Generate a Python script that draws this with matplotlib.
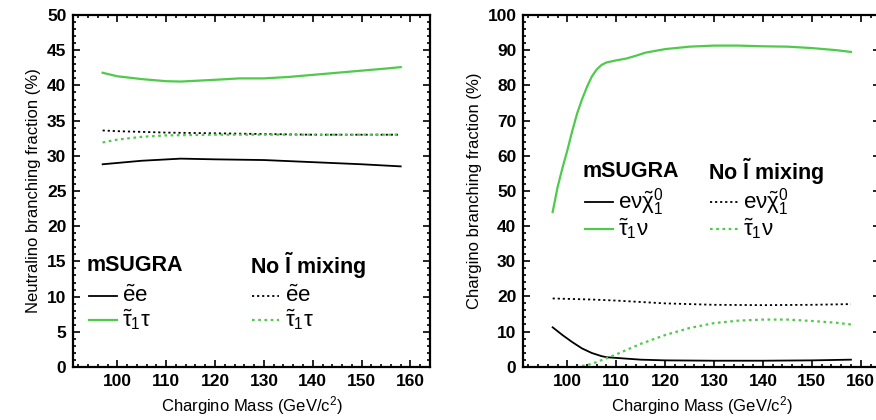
import matplotlib
matplotlib.use('Agg')
import matplotlib.pyplot as plt
from matplotlib.ticker import MultipleLocator

plt.rcParams['font.family'] = ['Liberation Sans', 'DejaVu Sans']
plt.rcParams['mathtext.fontset'] = 'custom'
plt.rcParams['mathtext.rm'] = 'Liberation Sans'
plt.rcParams['mathtext.it'] = 'Liberation Sans'
plt.rcParams['mathtext.bf'] = 'Liberation Sans:bold'

GREEN = '#4fca4a'

# 左: ニュートラリーノ崩壊分岐比
n_mass_a = [97, 100, 105, 110, 113, 120, 125, 130, 135, 140, 145, 150, 155, 158]
n_stau_msugra = [41.8, 41.3, 40.9, 40.6, 40.55, 40.8, 41.0, 41.0, 41.2, 41.5, 41.8, 42.1, 42.4, 42.6]
n_mass_b = [97, 105, 113, 120, 130, 140, 150, 158]
n_sel_msugra = [28.8, 29.3, 29.6, 29.5, 29.4, 29.1, 28.8, 28.5]
n_mass_c = [97, 100, 105, 110, 120, 130, 140, 158]
n_sel_nomix = [33.6, 33.5, 33.4, 33.3, 33.2, 33.1, 33.0, 33.0]
n_stau_nomix = [31.9, 32.3, 32.7, 32.9, 33.0, 33.0, 33.0, 33.0]

# 右: チャージーノ崩壊分岐比
c_mass_a = [97, 98, 99, 100, 101, 102, 103, 104, 105, 106, 107, 108, 110, 112, 114,
            116, 120, 125, 130, 135, 140, 145, 150, 155, 158]
c_stau_msugra = [44, 51, 56.5, 61.5, 67, 72, 76, 79.5, 82.5, 84.5, 85.8, 86.5, 87.1, 87.6, 88.4,
                 89.3, 90.3, 91.0, 91.3, 91.3, 91.1, 91.0, 90.6, 90.0, 89.5]
c_mass_b = [97, 99, 101, 103, 105, 107, 108, 110, 115, 120, 130, 140, 150, 158]
c_enu_msugra = [11.2, 9.0, 7.0, 5.2, 3.9, 3.0, 2.7, 2.5, 2.0, 1.8, 1.7, 1.7, 1.8, 2.0]
c_mass_c = [97, 105, 110, 120, 130, 140, 150, 158]
c_enu_nomix = [19.4, 19.1, 18.8, 18.0, 17.6, 17.5, 17.6, 17.8]
c_mass_d = [103, 105, 108, 110, 115, 120, 125, 130, 135, 140, 145, 150, 155, 158]
c_stau_nomix = [0.2, 0.8, 2.4, 3.5, 6.5, 9.0, 11.0, 12.4, 13.1, 13.4, 13.4, 13.0, 12.5, 12.0]

dot = (0, (1.2, 1.6))


def style_axes(ax, ymax, ymajor, yminor):
    ax.set_xlim(91, 164)
    ax.set_ylim(0, ymax)
    ax.xaxis.set_major_locator(MultipleLocator(10))
    ax.xaxis.set_minor_locator(MultipleLocator(2))
    ax.yaxis.set_major_locator(MultipleLocator(ymajor))
    ax.yaxis.set_minor_locator(MultipleLocator(yminor))
    ax.tick_params(which='both', direction='in', top=True, right=True, width=1.2)
    ax.tick_params(which='major', length=5, labelsize=12.5, pad=5)
    ax.tick_params(which='minor', length=2.5)
    for lab in ax.get_xticklabels() + ax.get_yticklabels():
        lab.set_fontweight('bold')
    for s in ax.spines.values():
        s.set_linewidth(1.6)
    ax.set_xlabel('Chargino Mass (GeV/c$^2$)', fontsize=12)


def legend_block(ax, x0, y1, y2, lab1, lab2, ls):
    ax.plot([x0, x0 + 0.078], [y1, y1], color='black', lw=1.3, ls=ls, transform=ax.transAxes)
    ax.plot([x0, x0 + 0.078], [y2, y2], color=GREEN, lw=1.6, ls=ls, transform=ax.transAxes)
    ax.text(x0 + 0.093, y1, lab1, fontsize=16, va='center', transform=ax.transAxes)
    ax.text(x0 + 0.093, y2, lab2, fontsize=16, va='center', transform=ax.transAxes)


fig = plt.figure(figsize=(8.76, 4.2), dpi=100)
ax1 = fig.add_axes([0.0837, 0.1262, 0.4072, 0.838])
ax2 = fig.add_axes([0.5974, 0.1269, 0.4075, 0.8374])

# 左パネル
ax1.plot(n_mass_a, n_stau_msugra, color=GREEN, lw=1.6)
ax1.plot(n_mass_b, n_sel_msugra, color='black', lw=1.3)
ax1.plot(n_mass_c, n_sel_nomix, color='black', lw=1.3, ls=dot)
ax1.plot(n_mass_c, n_stau_nomix, color=GREEN, lw=1.6, ls=dot)
style_axes(ax1, 50, 5, 1)
ax1.set_ylabel('Neutralino branching fraction (%)', fontsize=12)

ax1.text(0.036, 0.287, 'mSUGRA', fontsize=15.5, fontweight='bold', va='center', transform=ax1.transAxes)
ax1.text(0.495, 0.287, r'No $\mathbf{\tilde{l}}$ mixing', fontsize=15.5, fontweight='bold', va='center', transform=ax1.transAxes)
legend_block(ax1, 0.044, 0.202, 0.134, r'$\tilde{e}$e', r'$\tilde{\tau}_1\tau$', '-')
legend_block(ax1, 0.50, 0.202, 0.134, r'$\tilde{e}$e', r'$\tilde{\tau}_1\tau$', dot)

# 右パネル
ax2.plot(c_mass_a, c_stau_msugra, color=GREEN, lw=1.6)
ax2.plot(c_mass_b, c_enu_msugra, color='black', lw=1.3)
ax2.plot(c_mass_c, c_enu_nomix, color='black', lw=1.3, ls=dot)
ax2.plot(c_mass_d, c_stau_nomix, color=GREEN, lw=1.6, ls=dot)
style_axes(ax2, 100, 10, 2)
ax2.set_ylabel('Chargino branching fraction (%)', fontsize=12)

ax2.text(0.165, 0.556, 'mSUGRA', fontsize=15.5, fontweight='bold', va='center', transform=ax2.transAxes)
ax2.text(0.517, 0.556, r'No $\mathbf{\tilde{l}}$ mixing', fontsize=15.5, fontweight='bold', va='center', transform=ax2.transAxes)
legend_block(ax2, 0.173, 0.468, 0.392, r'e$\nu\tilde{\chi}_1^0$', r'$\tilde{\tau}_1\nu$', '-')
legend_block(ax2, 0.523, 0.468, 0.392, r'e$\nu\tilde{\chi}_1^0$', r'$\tilde{\tau}_1\nu$', dot)

fig.savefig('out.png', dpi=100)
